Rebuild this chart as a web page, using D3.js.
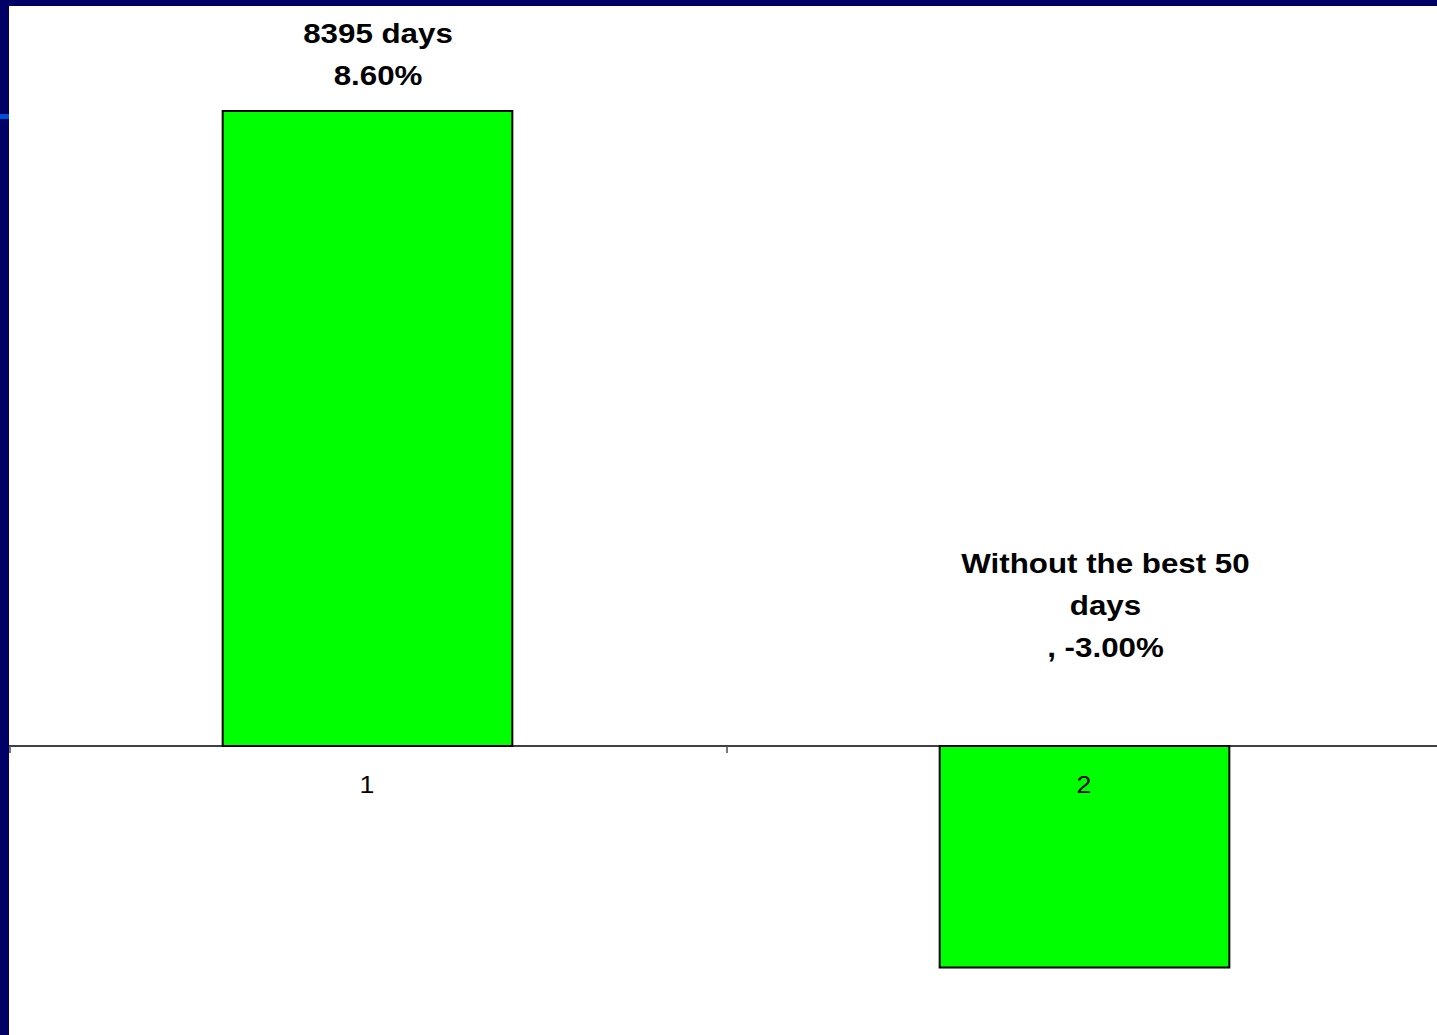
<!DOCTYPE html>
<html>
<head>
<meta charset="utf-8">
<script src="https://cdn.jsdelivr.net/npm/d3@7"></script>
<style>
  html, body { margin: 0; padding: 0; background: #ffffff; overflow: hidden; }
  svg { display: block; }
</style>
</head>
<body>
<svg id="chart" width="1437" height="1035"></svg>
<script>
// ---- data ----
const categories = ["1", "2"];
const values = [8.60, -3.00];
const labelLines = [
  ["8395 days", "8.60%"],
  ["Without the best 50", "days", ", -3.00%"]
];

// ---- layout ----
const W = 1437, H = 1035;
const svg = d3.select("#chart");
const stretch = 1.16;

// frame
svg.append("rect").attr("x", 0).attr("y", 0).attr("width", W).attr("height", H).attr("fill", "#ffffff");
svg.append("rect").attr("x", 0).attr("y", 0).attr("width", 9).attr("height", H).attr("fill", "#000066");
svg.append("rect").attr("x", 0).attr("y", 0).attr("width", W).attr("height", 6).attr("fill", "#000066");
svg.append("rect").attr("x", 0).attr("y", 114).attr("width", 9).attr("height", 5).attr("fill", "#0050d8");

const x = d3.scaleBand().domain(categories).range([9, 1443]).padding(0);
const y = d3.scaleLinear().domain([-4, 10]).range([1041.35, 7.6]);
const barW = x.bandwidth() * 0.404;

// bars
svg.selectAll("rect.bar").data(values).enter().append("rect")
  .attr("class", "bar")
  .attr("x", (d, i) => x(categories[i]) + x.bandwidth() / 2 - barW / 2)
  .attr("y", d => y(Math.max(0, d)))
  .attr("width", barW)
  .attr("height", d => Math.abs(y(d) - y(0)))
  .attr("fill", "#00ff00")
  .attr("stroke", "#000000")
  .attr("stroke-width", 2);

// axis line at zero
const y0 = y(0);
svg.append("line").attr("x1", 9).attr("x2", W).attr("y1", y0).attr("y2", y0)
  .attr("stroke", "#000000").attr("stroke-width", 1.4);

// ticks between categories
const tickXs = categories.map(c => x(c));
svg.selectAll("line.tick").data(tickXs).enter().append("line")
  .attr("class", "tick")
  .attr("x1", d => Math.round(d) + 1).attr("x2", d => Math.round(d) + 1)
  .attr("y1", y0).attr("y2", y0 + 7)
  .attr("stroke", "#555555").attr("stroke-width", 1.6);

// category labels
svg.selectAll("text.cat").data(categories).enter().append("text")
  .attr("class", "cat")
  .attr("transform", d => `translate(${x(d) + x.bandwidth() / 2 - 0.5},${y0 + 47}) scale(${stretch},1)`)
  .attr("text-anchor", "middle")
  .attr("font-family", "'Liberation Sans', Arial, sans-serif")
  .attr("font-size", 23)
  .attr("fill", "#000000")
  .text(d => d);

// data labels
const labelDx = [10.5, 21];
const labelGap = [26, 89];
const lineH = 42;
labelLines.forEach((lines, i) => {
  const cx = x(categories[i]) + x.bandwidth() / 2 + labelDx[i];
  const lastBase = y(Math.max(0, values[i])) - labelGap[i];
  lines.forEach((t, j) => {
    const base = lastBase - (lines.length - 1 - j) * lineH;
    svg.append("text")
      .attr("transform", `translate(${cx},${base}) scale(${stretch},1)`)
      .attr("text-anchor", "middle")
      .attr("font-family", "'Liberation Sans', Arial, sans-serif")
      .attr("font-weight", "bold")
      .attr("font-size", 27)
      .attr("fill", "#000000")
      .text(t);
  });
});
</script>
</body>
</html>
